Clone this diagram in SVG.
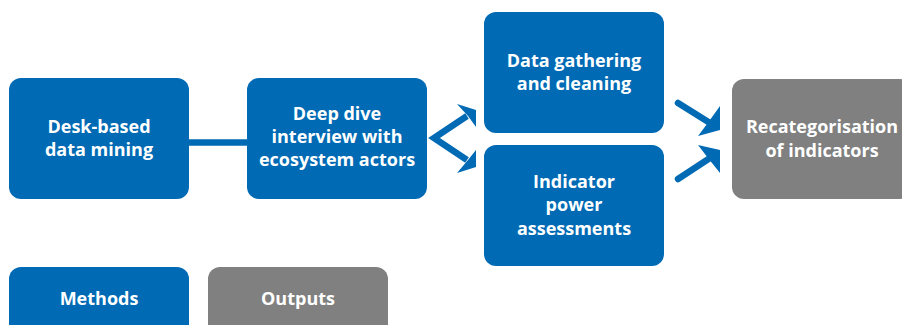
<svg xmlns="http://www.w3.org/2000/svg" width="902" height="325" viewBox="0 0 902 325">
<style>
.m{fill:#006ab4}
.o{fill:#808080}
.t{font-family:"Open Sans","Liberation Sans",sans-serif;font-weight:700;font-size:18px;fill:#fff;text-anchor:middle}
.c{stroke:#006ab4;stroke-width:6.5;fill:none;stroke-linecap:round;stroke-linejoin:miter}
.h{fill:#006ab4}
</style>
<rect width="902" height="325" fill="#fff"/>
<g id="connectors">
<line class="c" x1="186" y1="142.5" x2="250" y2="142.5" style="stroke-linecap:butt"/>
<polyline class="c" points="467,116 434,138 467,160" style="stroke-linecap:butt"/>
<polygon class="h" points="457,104 476,110 476,127 468,116"/>
<polygon class="h" points="457,173 476,167 476,150 468,160"/>
<line class="c" x1="678" y1="103" x2="710" y2="123"/>
<polygon class="h" points="720,106 720,130 698,136 707,124"/>
<line class="c" x1="678" y1="179" x2="710" y2="158"/>
<polygon class="h" points="698,145 720,150 720,173 708,158"/>
</g>
<g id="desk">
<rect class="m" x="9" y="78" width="180" height="121" rx="12"/>
<text class="t" x="99" y="133">Desk-based</text>
<text class="t" x="99" y="156">data mining</text>
</g>
<g id="deepdive">
<rect class="m" x="247" y="78" width="180" height="121" rx="12"/>
<text class="t" x="337" y="120">Deep dive</text>
<text class="t" x="337" y="143">interview with</text>
<text class="t" x="337" y="166">ecosystem actors</text>
</g>
<g id="gathering">
<rect class="m" x="484" y="12" width="180" height="121" rx="12"/>
<text class="t" x="574" y="67">Data gathering</text>
<text class="t" x="574" y="90">and cleaning</text>
</g>
<g id="power">
<rect class="m" x="484" y="145" width="180" height="121" rx="12"/>
<text class="t" x="574" y="188">Indicator</text>
<text class="t" x="574" y="211">power</text>
<text class="t" x="574" y="235">assessments</text>
</g>
<g id="recat">
<rect class="o" x="732" y="79" width="180" height="120" rx="12"/>
<text class="t" x="822" y="133">Recategorisation</text>
<text class="t" x="822" y="157">of indicators</text>
</g>
<g id="legend-methods">
<rect class="m" x="9" y="267" width="180" height="80" rx="12"/>
<text class="t" x="99" y="305">Methods</text>
</g>
<g id="legend-outputs">
<rect class="o" x="208" y="267" width="180" height="80" rx="12"/>
<text class="t" x="298" y="305">Outputs</text>
</g>
</svg>
